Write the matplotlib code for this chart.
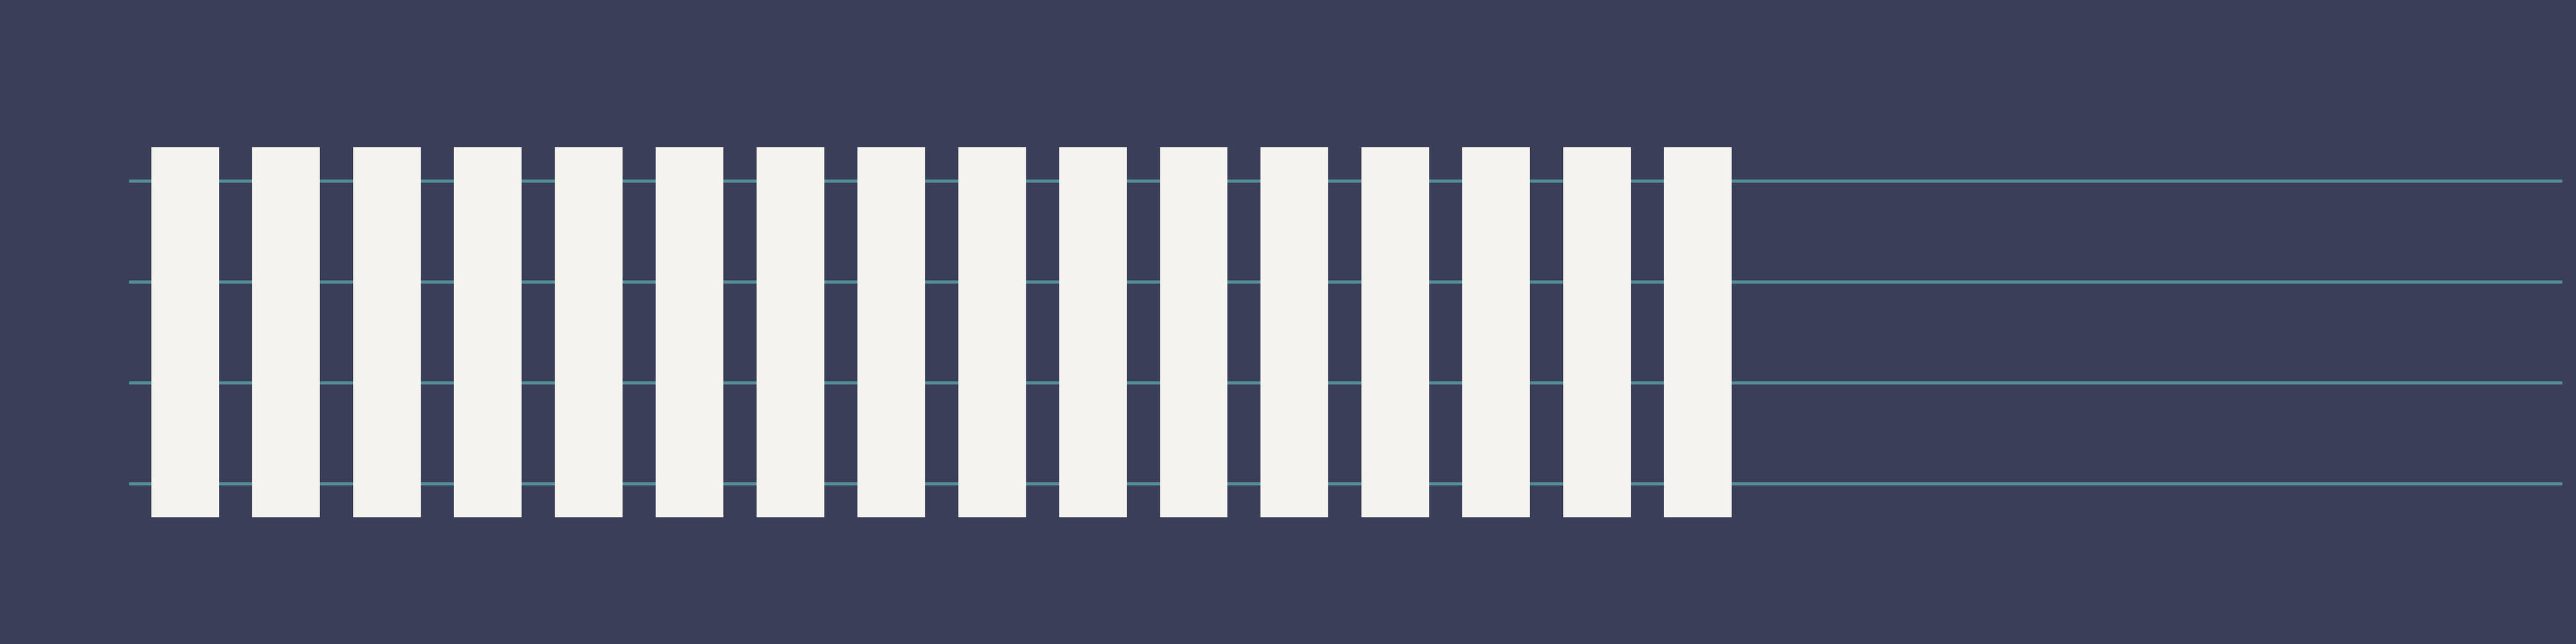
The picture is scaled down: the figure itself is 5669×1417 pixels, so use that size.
import numpy as np
import matplotlib.pyplot as plt

# sixteen equal bars, grid lines at four levels
categories = [f"c{i + 1}" for i in range(16)]
values = [11, 11, 11, 11, 11, 11, 11, 11, 11, 11, 11, 11, 11, 11, 11, 11]
grid_levels = [1, 4, 7, 10]

bg_color = "#3b3e58"
bar_color = "#f4f3ee"
grid_color = "#538d96"

fig = plt.figure(figsize=(56.69, 14.17), dpi=100, facecolor=bg_color)
# axes spans the gridline extent horizontally, whole height vertically
ax = fig.add_axes([284 / 5669, 0, (5639 - 284) / 5669, 1])
ax.set_facecolor(bg_color)

x = np.arange(len(categories))
ax.bar(x, values, width=0.671, color=bar_color, linewidth=0, zorder=2)

for level in grid_levels:
    ax.axhline(level, color=grid_color, linewidth=5.0, zorder=1)

ax.set_xlim(-0.556, 23.57)
ax.set_ylim(-3.77, 15.38)

ax.set_xticks([])
ax.set_yticks([])
for spine in ax.spines.values():
    spine.set_visible(False)

fig.savefig("out.png", dpi=100, facecolor=bg_color)
